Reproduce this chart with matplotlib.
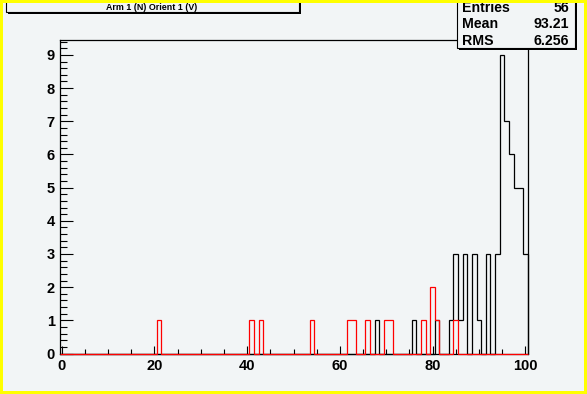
import numpy as np
import matplotlib
matplotlib.use("Agg")
import matplotlib.pyplot as plt
from matplotlib.patches import Rectangle

# histogram contents (bin centre -> count), bins of width 1 from -0.5 to 100.5
black_bins = [68, 76, 81, 84, 85, 86, 87, 89, 90, 92, 94, 95, 96, 97, 98, 99, 100]
black_counts = [1, 1, 1, 1, 3, 1, 3, 3, 1, 3, 3, 9, 7, 6, 5, 5, 3]
red_bins = [21, 41, 43, 54, 62, 63, 66, 70, 71, 78, 80, 81, 85]
red_counts = [1, 1, 1, 1, 1, 1, 1, 1, 1, 1, 2, 1, 1]

title = "Arm 1 (N) Orient 1 (V)"
stat_names = ["Entries", "Mean", "RMS"]
stat_values = ["56", "93.21", "6.256"]

x_ticks = [0, 20, 40, 60, 80, 100]
y_ticks = list(range(10))

W, H = 587, 394
bg = "#f2f5f6"
plt.rcParams['font.family'] = ['Liberation Sans', 'DejaVu Sans']
plt.rcParams['font.weight'] = 'bold'

edges = np.arange(-0.5, 101.0, 1.0)
black = np.zeros(len(edges) - 1)
red = np.zeros(len(edges) - 1)
black[np.array(black_bins)] = black_counts
red[np.array(red_bins)] = red_counts

fig = plt.figure(figsize=(W / 100, H / 100), dpi=100, facecolor=bg)
ax = fig.add_axes([59.5 / W, 1 - 353.5 / H, 468 / W, 313.5 / H])
ax.set_facecolor(bg)

ax.stairs(black, edges, color="black", linewidth=0.9, baseline=0, zorder=3, clip_on=False)
ax.stairs(red, edges, color="red", linewidth=0.9, baseline=0, zorder=3.5, clip_on=False)

ax.set_xlim(-0.5, 100.5)
ax.set_ylim(0, 9.45)
ax.set_xticks(x_ticks)
ax.set_xticks(np.arange(0, 101, 5), minor=True)
ax.set_yticks(y_ticks)
ax.set_yticks(np.arange(0, 9.5, 0.2), minor=True)

ax.tick_params(axis='x', which='major', direction='in', length=6, width=0.8, pad=4, labelsize=10.5)
ax.tick_params(axis='x', which='minor', direction='in', length=3.5, width=0.8)
ax.tick_params(axis='y', which='major', direction='in', length=9.5, width=0.8, pad=3.5, labelsize=10.5)
ax.tick_params(axis='y', which='minor', direction='in', length=5, width=0.8)
for s in ax.spines.values():
    s.set_linewidth(0.9)


def fx(x):
    return x / W


def fy(y):
    return 1 - y / H


def pave(x0, y0, x1, y1):
    # ROOT style box with a drop shadow
    fig.patches.append(Rectangle((fx(x0 + 1.5), fy(y1 + 1.5)), fx(x1 - x0), (y1 - y0) / H,
                                 transform=fig.transFigure, facecolor="black",
                                 edgecolor="none", zorder=5))
    fig.patches.append(Rectangle((fx(x0), fy(y1)), fx(x1 - x0), (y1 - y0) / H,
                                 transform=fig.transFigure, facecolor=bg,
                                 edgecolor="black", linewidth=0.8, zorder=6))


# title box
pave(6, -10, 299, 12)
fig.text(fx(152), fy(7.5), title, ha="center", va="center", fontsize=6.4,
         fontweight="bold", zorder=7)

# stats box
pave(457, -10, 575, 48)
for i, (name, val) in enumerate(zip(stat_names, stat_values)):
    y = 8 + i * 16.3
    fig.text(fx(462), fy(y), name, ha="left", va="center", fontsize=10.2,
             fontweight="bold", zorder=7)
    fig.text(fx(569), fy(y), val, ha="right", va="center", fontsize=10.2,
             fontweight="bold", zorder=7)

# yellow canvas border
for r in [(0, 0, 3, H), (W - 3, 0, 3, H), (0, 0, W, 3), (0, H - 3, W, 3)]:
    fig.patches.append(Rectangle((fx(r[0]), fy(r[1] + r[3])), fx(r[2]), r[3] / H,
                                 transform=fig.transFigure, facecolor="#ffff00",
                                 edgecolor="none", zorder=10))

fig.savefig("out.png", dpi=100, facecolor=bg)
